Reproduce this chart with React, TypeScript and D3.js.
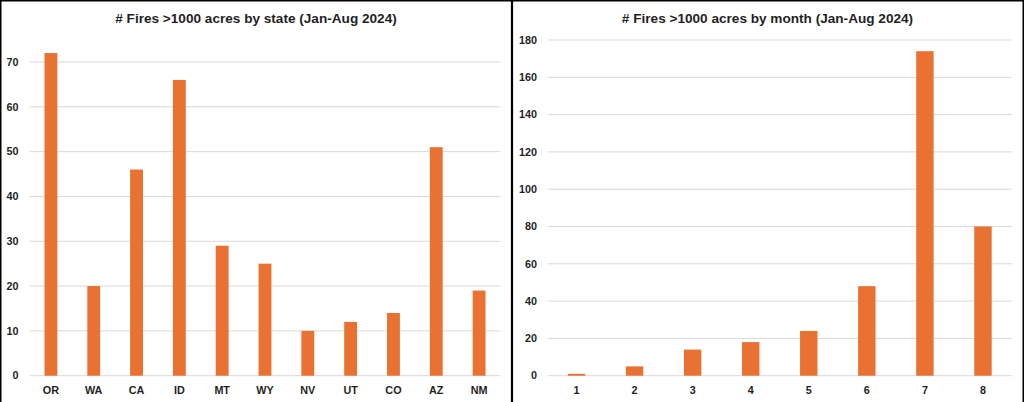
import * as d3 from "d3";

// left panel: fires by state
const states = ["OR", "WA", "CA", "ID", "MT", "WY", "NV", "UT", "CO", "AZ", "NM"];
const stateFires = [72, 20, 46, 66, 29, 25, 10, 12, 14, 51, 19];
const stateTicks = [0, 10, 20, 30, 40, 50, 60, 70];

// right panel: fires by month
const months = ["1", "2", "3", "4", "5", "6", "7", "8"];
const monthFires = [1, 5, 14, 18, 24, 48, 174, 80];
const monthTicks = [0, 20, 40, 60, 80, 100, 120, 140, 160, 180];

const W = 1024;
const H = 402;
const BAR = "#e97132";
const GRID = "#d9d9d9";
const TEXT = "#1f1f1f";
const FONT = "'Liberation Sans', Arial, sans-serif";

interface PanelProps {
  title: string;
  titleX: number;
  cats: string[];
  values: number[];
  ticks: number[];
  x0: number;
  x1: number;
  yMax: number;
  yTop: number;
  labelX: number;
}

const y0 = 375.7;

const Panel = ({ title, titleX, cats, values, ticks, x0, x1, yMax, yTop, labelX }: PanelProps) => {
  const x = d3.scaleBand<string>().domain(cats).range([x0, x1]).paddingInner(0.7).paddingOuter(0.35);
  const y = d3.scaleLinear().domain([0, yMax]).range([y0, yTop]);

  return (
    <g>
      <text
        x={titleX}
        y={23}
        textAnchor="middle"
        fontSize={13.6}
        fontWeight="bold"
        fill={TEXT}
      >
        {title}
      </text>
      {ticks.map((t) => (
        <g key={t}>
          <line x1={x0} x2={x1} y1={y(t)} y2={y(t)} stroke={GRID} strokeWidth={1} />
          <text
            x={labelX}
            y={y(t)}
            dy="0.35em"
            textAnchor="end"
            fontSize={10.8}
            fontWeight="bold"
            fill={TEXT}
          >
            {t}
          </text>
        </g>
      ))}
      {cats.map((c, i) => (
        <g key={c}>
          <rect
            x={x(c)!}
            y={y(values[i])}
            width={x.bandwidth()}
            height={y(0) - y(values[i])}
            fill={BAR}
          />
          <text
            x={x(c)! + x.bandwidth() / 2}
            y={394}
            textAnchor="middle"
            fontSize={10.8}
            fontWeight="bold"
            fill={TEXT}
          >
            {c}
          </text>
        </g>
      ))}
    </g>
  );
};

const App = () => {
  return (
    <svg
      width={W}
      height={H}
      style={{ position: "absolute", left: 0, top: 0, display: "block", background: "#fff" }}
      fontFamily={FONT}
    >
      <rect x={0} y={0} width={W} height={H} fill="#fff" />
      <Panel
        title="# Fires >1000 acres by state (Jan-Aug 2024)"
        titleX={256}
        cats={states}
        values={stateFires}
        ticks={stateTicks}
        x0={29.5}
        x1={500.5}
        yMax={70}
        yTop={62}
        labelX={18.5}
      />
      <Panel
        title="# Fires >1000 acres by month (Jan-Aug 2024)"
        titleX={767.5}
        cats={months}
        values={monthFires}
        ticks={monthTicks}
        x0={547.5}
        x1={1012}
        yMax={180}
        yTop={40}
        labelX={537}
      />
      {/* frame + divider */}
      <line x1={0.75} x2={0.75} y1={0} y2={H} stroke="#000" strokeWidth={1.5} />
      <line x1={0} x2={W} y1={0.75} y2={0.75} stroke="#000" strokeWidth={1.5} />
      <line x1={1023.25} x2={1023.25} y1={0} y2={H} stroke="#000" strokeWidth={1.5} />
      <line x1={512} x2={512} y1={0} y2={H} stroke="#000" strokeWidth={2.2} />
    </svg>
  );
};

export default App;
